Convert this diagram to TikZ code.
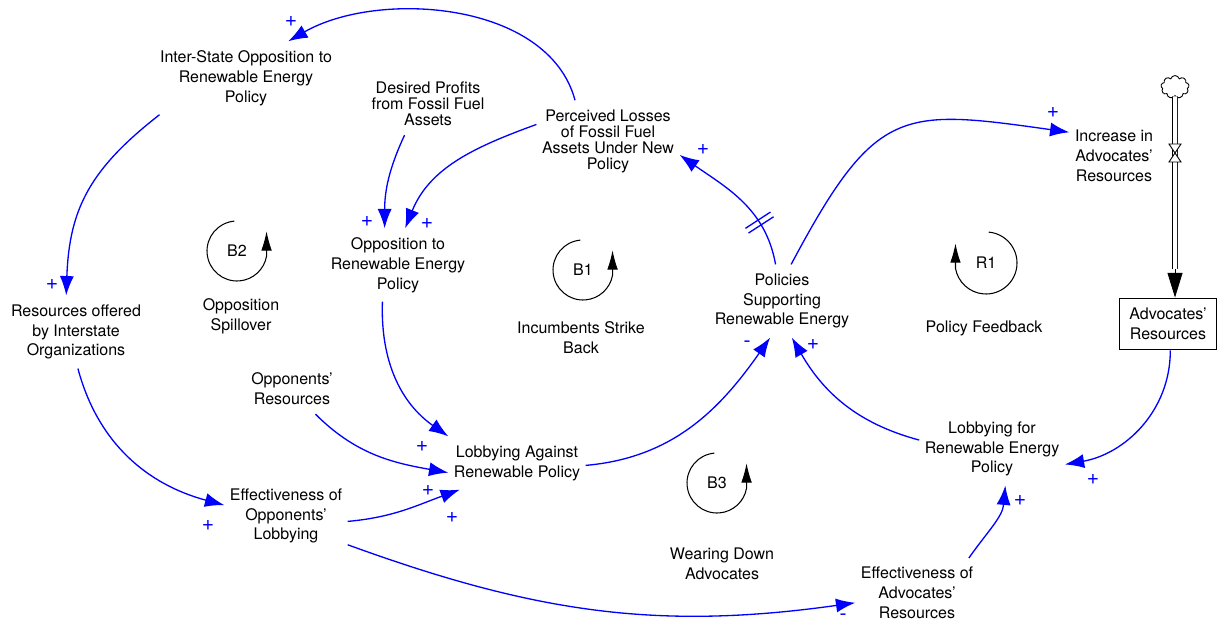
\documentclass[tikz,border=0pt]{standalone}
\usepackage{fontspec}
\setmainfont{TeX Gyre Heros}
\usepackage{tikz}
\usetikzlibrary{arrows.meta,shapes.symbols,decorations.markings}
\tikzset{>={Latex[length=11pt,width=8pt]}}
\tikzstyle{var}    = [align=center,
                      font=\fontsize{9.1}{11.3}\selectfont,
                      inner xsep=3pt,
                      inner ysep=5pt]
\tikzstyle{tightvar} = [var,
                        font=\fontsize{9.1}{9.1}\selectfont]
\tikzstyle{stock}  = [var,
                      draw,
                      line width=0.6pt,
                      minimum width=55.6pt,
                      minimum height=29.5pt]
\tikzstyle{causal} = [->,
                      blue,
                      line width=0.75pt]
\tikzstyle{sign}   = [blue,
                      font=\fontsize{12}{14}\selectfont,
                      inner sep=0pt]
\tikzstyle{loopline} = [-{Latex[length=11pt,width=6pt]},
                        line width=0.6pt]
\tikzstyle{pipe}   = [double,
                      double distance=2.3pt,
                      line width=0.5pt]
\tikzstyle{delay}  = [postaction={decorate},
                      decoration={markings,
                        mark=at position 0.3 with {
                          \draw[-, blue, line width=0.75pt]
                            (-1.6pt,-8.5pt) -- (-1.6pt,8.5pt)
                            (1.6pt,-8.5pt) -- (1.6pt,8.5pt);}}]

\begin{document}
\begin{tikzpicture}[x=0.02cm, y=0.02cm]

  \useasboundingbox (0,0) rectangle (1219,625);

  % Nodes
  \node[var] (istate) at (246,547) {Inter-State Opposition to\\Renewable Energy\\Policy};
  \node[tightvar] (desired) at (428,521) {Desired Profits\\from Fossil Fuel\\Assets};
  \node[tightvar] (losses) at (608,484) {Perceived Losses\\of Fossil Fuel\\Assets Under New\\Policy};
  \node[var] (increase) at (1114,469) {Increase in\\Advocates'\\Resources};
  \node[var] (opposition) at (398,360) {Opposition to\\Renewable Energy\\Policy};
  \node[var] (resoff) at (76,293) {Resources offered\\by Interstate\\Organizations};
  \node[var] (policies) at (782,324) {Policies\\Supporting\\Renewable Energy};
  \node[stock] (advres) at (1168,301) {Advocates'\\Resources};
  \node[var] (oppres) at (292,236) {Opponents'\\Resources};
  \node[var] (lobagainst) at (517,162) {Lobbying Against\\Renewable Policy};
  \node[var] (lobfor) at (992,176) {Lobbying for\\Renewable Energy\\Policy};
  \node[var] (effopp) at (286,109) {Effectiveness of\\Opponents'\\Lobbying};
  \node[var] (effadv) at (917,32) {Effectiveness of\\Advocates'\\Resources};

  % Loops
  \node[var] (b2) at (237,374) {B2};
  \node[var] (b2lbl) at (241,309) {Opposition\\Spillover};
  \draw[loopline] (b2.center) ++(95:30) arc[start angle=95, end angle=350, radius=30] -- ++(0,25);
  \node[var] (b1) at (583,355) {B1};
  \node[var] (b1lbl) at (581,287) {Incumbents Strike\\Back};
  \draw[loopline] (b1.center) ++(95:30) arc[start angle=95, end angle=350, radius=30] -- ++(0,25);
  \node[var] (r1) at (986,362) {R1};
  \node[var] (r1lbl) at (984,297) {Policy Feedback};
  \draw[loopline] (r1.center) ++(85:31) arc[start angle=85, end angle=-170, radius=31] -- ++(0,25);
  \node[var] (b3) at (717,142) {B3};
  \node[var] (b3lbl) at (722,61) {Wearing Down\\Advocates};
  \draw[loopline] (b3.center) ++(95:30) arc[start angle=95, end angle=350, radius=30] -- ++(0,25);

  % Stock and flow
  \node[cloud, draw, cloud puffs=9, line width=0.5pt, minimum width=16pt,
    minimum height=13pt, inner sep=0pt] (source) at (1175,538) {};
  \coordinate (pipeend) at (1175,356);
  \coordinate (valve) at (1175,472);
  \draw[pipe] (source) -- (pipeend);
  \draw[-{Triangle[length=14pt,width=8.5pt]}, line width=0.5pt] (pipeend) -- (advres.north -| source);
  \draw[fill=white, line width=0.5pt] (valve) ++(-6,9) -- ++(12,0) -- ++(-12,-18) -- ++(12,0) -- cycle;

  % Edges
  \draw[causal] (losses.129) to[out=105, in=30, looseness=0.9] (istate.41);
  \draw[causal] (istate.203) to[out=218, in=88, looseness=1.1] (resoff.105);
  \draw[causal] (resoff.273) to[out=285, in=165] (effopp.170);
  \draw[causal] (effopp.355) to[out=5, in=200] (lobagainst.205);
  \draw[causal] (oppres.313) to[out=-45, in=170] (lobagainst.188);
  \draw[causal] (opposition.247) to[out=268, in=145] (lobagainst.north west);
  \draw[causal] (desired.233) to[out=245, in=90] (opposition.110);
  \draw[causal] (losses.167) to[out=200, in=68] (opposition.79);
  \draw[causal] (lobagainst.358) to[out=5, in=235] (policies.252);
  \draw[causal, delay] (policies.100) to[out=100, in=325] (losses.349);
  \draw[causal] (policies.76) .. controls +(62:180) and +(172:170) .. (increase.152);
  \draw[causal] (lobfor.173) to[out=165, in=300] (policies.285);
  \draw[causal] (advres.275) to[out=270, in=10] (lobfor.348);
  \draw[causal] (effopp.335) to[out=-20, in=188] (effadv.189);
  \draw[causal] (effadv.34) to[out=55, in=265] (lobfor.290);

  % Signs
  \node[sign] (sa) at (291,603) {+};
  \node[sign] (sb) at (52,340) {+};
  \node[sign] (sc) at (208,99) {+};
  \node[sign] (sd) at (452,107) {+};
  \node[sign] (se) at (428,134) {+};
  \node[sign] (sf) at (422,178) {+};
  \node[sign] (sg) at (367,403) {+};
  \node[sign] (sh) at (427,401) {+};
  \node[sign] (si) at (747,281) {-};
  \node[sign] (sj) at (703,475) {+};
  \node[sign] (sk) at (1053,512) {+};
  \node[sign] (sl) at (813,280) {+};
  \node[sign] (sm) at (1093,145) {+};
  \node[sign] (sn) at (843,8) {-};
  \node[sign] (so) at (1020,124) {+};

\end{tikzpicture}
\end{document}
